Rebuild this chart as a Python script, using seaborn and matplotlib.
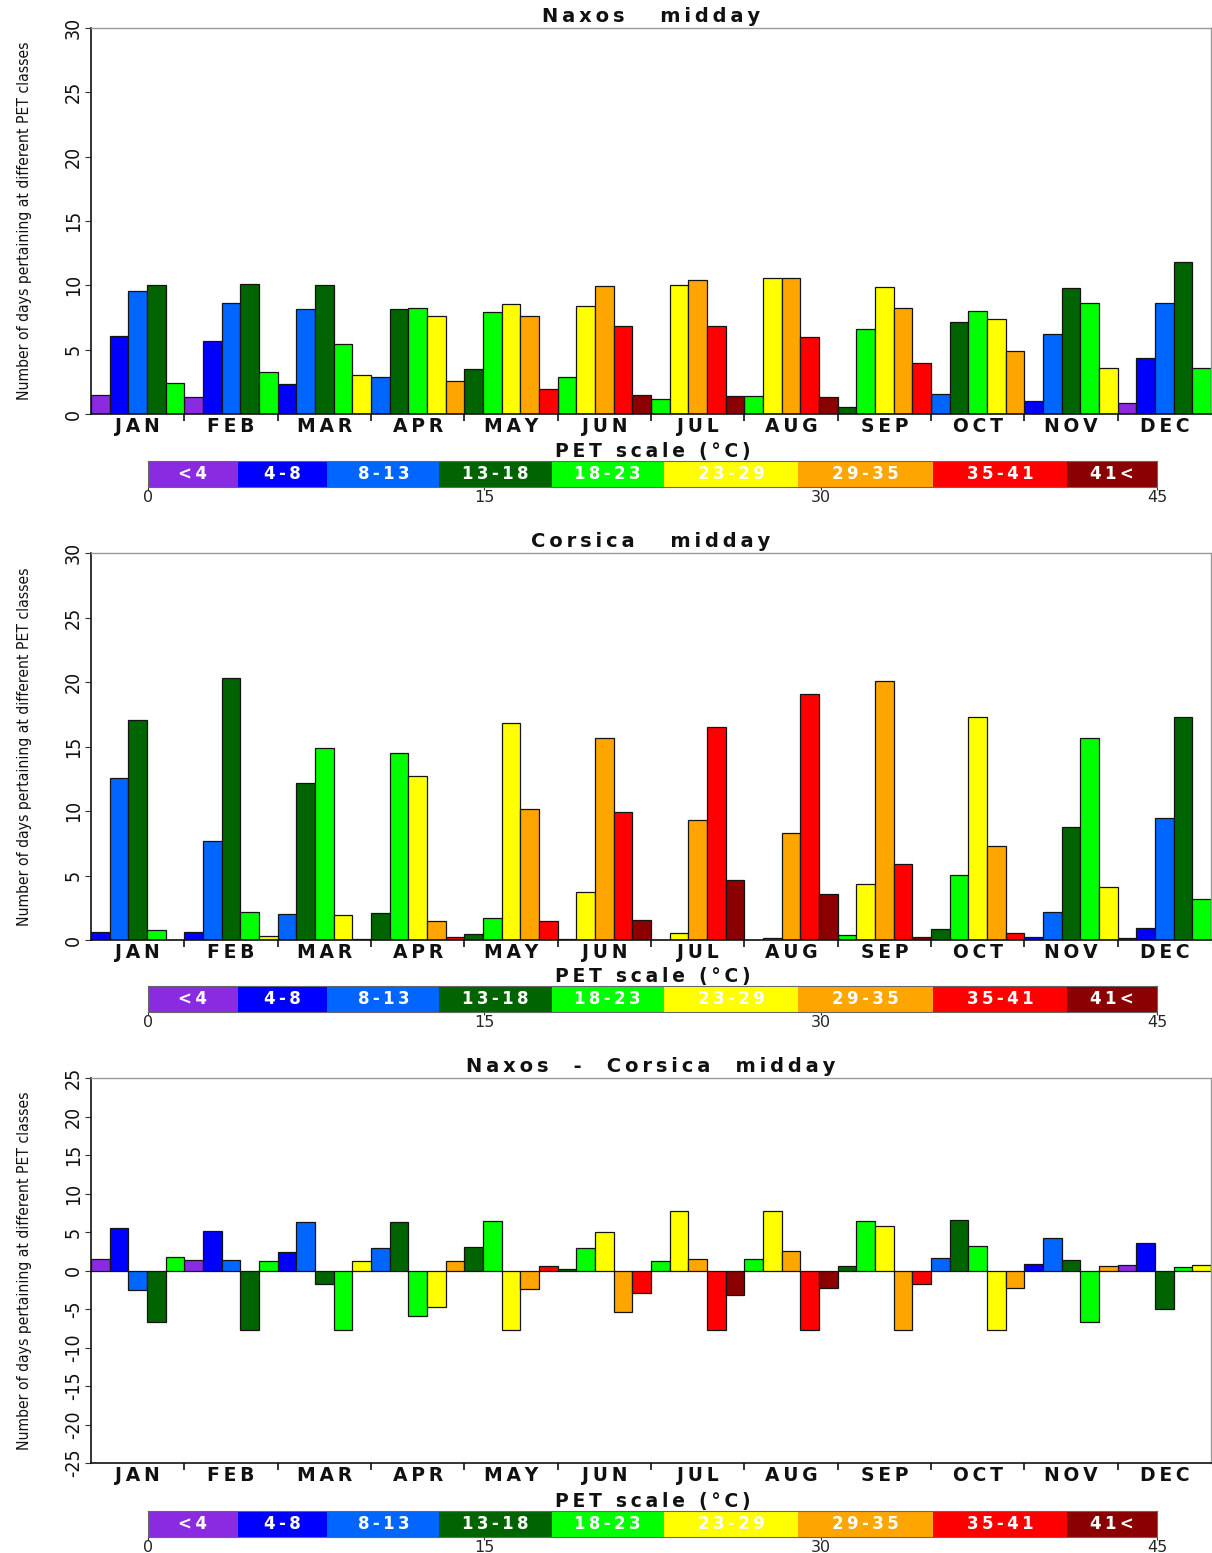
import os
import numpy as np
import pandas as pd
import matplotlib
matplotlib.use("Agg")
import matplotlib.pyplot as plt
from matplotlib import font_manager
from matplotlib.font_manager import FontProperties
import seaborn as sns

# ---------------------------------------------------------------- data
months = ["JAN", "FEB", "MAR", "APR", "MAY", "JUN",
          "JUL", "AUG", "SEP", "OCT", "NOV", "DEC"]

pet_classes = ["<4", "4-8", "8-13", "13-18", "18-23",
               "23-29", "29-35", "35-41", "41<"]
pet_edges = [0, 4, 8, 13, 18, 23, 29, 35, 41, 45]
pet_colors = ["#8A2BE2", "#0000FF", "#0066FF", "#006400", "#00FF00",
              "#FFFF00", "#FFA500", "#FF0000", "#8B0000"]

# PET class index of each of the five bars drawn per month
naxos_classes = [
    [0, 1, 2, 3, 4], [0, 1, 2, 3, 4], [1, 2, 3, 4, 5], [2, 3, 4, 5, 6],
    [3, 4, 5, 6, 7], [4, 5, 6, 7, 8], [4, 5, 6, 7, 8], [4, 5, 6, 7, 8],
    [3, 4, 5, 6, 7], [2, 3, 4, 5, 6], [1, 2, 3, 4, 5], [0, 1, 2, 3, 4],
]
naxos_days = [
    [1.48, 6.04, 9.58, 10.00, 2.44],
    [1.32, 5.65, 8.65, 10.07, 3.29],
    [2.36, 8.13, 10.05, 5.41, 3.00],
    [2.87, 8.13, 8.26, 7.59, 2.56],
    [3.47, 7.90, 8.52, 7.59, 1.97],
    [2.90, 8.42, 9.95, 6.86, 1.45],
    [1.17, 10.00, 10.44, 6.86, 1.42],
    [1.37, 10.57, 10.57, 5.98, 1.30],
    [0.54, 6.63, 9.84, 8.26, 3.94],
    [1.58, 7.17, 7.98, 7.36, 4.90],
    [0.98, 6.19, 9.82, 8.65, 3.55],
    [0.85, 4.33, 8.65, 11.79, 3.55],
]

corsica_classes = [
    [1, 2, 3, 4, 5], [1, 2, 3, 4, 5], [2, 3, 4, 5, 6], [3, 4, 5, 6, 7],
    [3, 4, 5, 6, 7], [4, 5, 6, 7, 8], [4, 5, 6, 7, 8], [4, 5, 6, 7, 8],
    [4, 5, 6, 7, 8], [3, 4, 5, 6, 7], [1, 2, 3, 4, 5], [0, 1, 2, 3, 4],
]
corsica_days = [
    [0.60, 12.55, 17.09, 0.81, 0.00],
    [0.60, 7.64, 20.31, 2.18, 0.29],
    [2.00, 12.16, 14.86, 1.92, 0.08],
    [2.10, 14.47, 12.68, 1.48, 0.26],
    [0.49, 1.71, 16.80, 10.18, 1.51],
    [0.10, 3.69, 15.69, 9.95, 1.58],
    [0.00, 0.52, 9.30, 16.49, 4.62],
    [0.00, 0.16, 8.31, 19.06, 3.58],
    [0.42, 4.34, 20.05, 5.90, 0.23],
    [0.83, 5.06, 17.25, 7.32, 0.52],
    [0.21, 2.18, 8.78, 15.64, 4.10],
    [0.16, 0.94, 9.43, 17.32, 3.17],
]

diff_classes = [
    [0, 1, 2, 3, 4], [0, 1, 2, 3, 4], [1, 2, 3, 4, 5], [2, 3, 4, 5, 6],
    [3, 4, 5, 6, 7], [3, 4, 5, 6, 7], [4, 5, 6, 7, 8], [4, 5, 6, 7, 8],
    [3, 4, 5, 6, 7], [2, 3, 4, 5, 6], [1, 2, 3, 4, 6], [0, 1, 3, 4, 5],
]
diff_days = [
    [1.55, 5.58, -2.53, -6.65, 1.72],
    [1.33, 5.15, 1.33, -7.77, 1.24],
    [2.45, 6.31, -1.72, -7.77, 1.20],
    [2.92, 6.27, -5.88, -4.76, 1.24],
    [3.05, 6.39, -7.77, -2.36, 0.52],
    [0.17, 2.90, 4.98, -5.36, -2.88],
    [1.24, 7.68, 1.50, -7.77, -3.18],
    [1.46, 7.68, 2.58, -7.77, -2.23],
    [0.52, 6.39, 5.84, -7.77, -1.80],
    [1.63, 6.57, 3.18, -7.77, -2.32],
    [0.86, 4.16, 1.37, -6.65, 0.52],
    [0.73, 3.52, -5.06, 0.43, 0.69],
]

# ---------------------------------------------------------------- style
sns.set_theme(style="white")
plt.rcParams["font.family"] = ["DejaVu Sans"]


def narrow_font():
    """Pick a narrow/condensed regular face if one is installed."""
    entries = font_manager.fontManager.ttflist
    for f in entries:
        if f.name == "Liberation Sans Narrow" and f.style == "normal" \
                and f.weight in (400, "normal", "regular"):
            return FontProperties(fname=f.fname), True
    for f in entries:
        fn = os.path.basename(f.fname).lower()
        if ("condensed" in fn or "narrow" in fn) and "bold" not in fn \
                and "oblique" not in fn and "italic" not in fn \
                and "light" not in fn and "thin" not in fn:
            return FontProperties(fname=f.fname), True
    return FontProperties(family="Liberation Sans"), False


NARROW, HAVE_NARROW = narrow_font()

BARS_PER_MONTH = 5
palette = dict(zip(pet_classes, pet_colors))


def spaced(text, sep="\u2009"):
    return sep.join(text)


def month_frame(classes, days):
    rows = []
    for m, (cls_row, val_row) in enumerate(zip(classes, days)):
        for j, (c, v) in enumerate(zip(cls_row, val_row)):
            rows.append({"slot": m * BARS_PER_MONTH + j,
                         "pet": pet_classes[c], "days": v})
    return pd.DataFrame(rows)


def draw_panel(ax, classes, days, title, ylim, yticks):
    df = month_frame(classes, days)
    n = len(months) * BARS_PER_MONTH
    sns.barplot(data=df, x="slot", y="days", hue="pet", order=list(range(n)),
                hue_order=pet_classes, palette=palette, dodge=False,
                saturation=1, width=1.0, errorbar=None, edgecolor="#141414",
                linewidth=0.9, legend=False, ax=ax)
    ax.set_xlim(-0.5, n - 0.5)
    ax.set_ylim(*ylim)
    ax.set_yticks(yticks)
    ax.set_yticklabels([str(t) for t in yticks], fontproperties=NARROW,
                       fontsize=14 if HAVE_NARROW else 12.5,
                       rotation=90, va="center", color="#111111")
    ax.tick_params(axis="y", length=4, width=0.8, color="#333333", pad=2,
                   left=True, direction="out")
    centers = np.arange(len(months)) * BARS_PER_MONTH + (BARS_PER_MONTH - 1) / 2
    ax.set_xticks(centers)
    ax.set_xticklabels([spaced(m) for m in months], fontweight="bold",
                       fontsize=13.5, color="#111111")
    ax.tick_params(axis="x", which="major", length=0, pad=2)
    ax.set_xticks(np.arange(1, len(months)) * BARS_PER_MONTH - 0.5, minor=True)
    ax.tick_params(axis="x", which="minor", length=5, width=1.2,
                   color="#111111", bottom=True, direction="out")
    ax.set_xlabel("")
    ax.set_ylabel("Number of days pertaining at different PET classes",
                  fontproperties=NARROW, fontsize=15, color="#111111")
    ax.yaxis.set_label_coords(-0.053, 0.5)
    ax.set_title(title, fontweight="bold", fontsize=14, pad=4,
                 color="#111111")
    for side in ("left", "bottom"):
        ax.spines[side].set_color("#111111")
        ax.spines[side].set_linewidth(1.2)
    for side in ("top", "right"):
        ax.spines[side].set_color("#999999")
        ax.spines[side].set_linewidth(1.0)


def draw_scale(cax):
    for i, name in enumerate(pet_classes):
        cax.axvspan(pet_edges[i], pet_edges[i + 1], color=pet_colors[i], lw=0)
        cax.text((pet_edges[i] + pet_edges[i + 1]) / 2, 0.5, spaced(name),
                 ha="center", va="center", color="white",
                 fontweight="bold", fontsize=12)
    cax.set_xlim(pet_edges[0], pet_edges[-1])
    cax.set_ylim(0, 1)
    cax.set_yticks([])
    cax.set_xticks([0, 15, 30, 45])
    cax.tick_params(axis="x", length=2, width=0.8, color="#333333",
                    labelsize=11.5, pad=0, bottom=True)
    for sp in cax.spines.values():
        sp.set_color("#666666")
        sp.set_linewidth(0.8)
    cax.set_title(spaced("PET scale (°C)"), fontweight="bold",
                  fontsize=13.5, pad=3, color="#111111")


# ---------------------------------------------------------------- figure
W, H = 1212, 1553
fig = plt.figure(figsize=(W / 100, H / 100), dpi=100)


def fig_rect(x0, y0, x1, y1):
    return [x0 / W, 1 - y1 / H, (x1 - x0) / W, (y1 - y0) / H]


panels = [
    (naxos_classes, naxos_days, "Naxos   midday", (0, 30), list(range(0, 31, 5)), 28, 414, 461),
    (corsica_classes, corsica_days, "Corsica   midday", (0, 30), list(range(0, 31, 5)), 553, 940, 986),
    (diff_classes, diff_days, "Naxos  -  Corsica  midday", (-25, 25), list(range(-25, 26, 5)), 1078, 1463, 1511),
]

axes = []
for classes, days, title, ylim, yticks, top, bottom, cb_top in panels:
    ax = fig.add_axes(fig_rect(91, top, 1211, bottom))
    draw_panel(ax, classes, days, spaced(title, "\u2009"), ylim, yticks)
    cax = fig.add_axes(fig_rect(148, cb_top, 1157, cb_top + 26))
    draw_scale(cax)
    axes.append(ax)

# size the y-axis titles so that each spans about 360 px of its panel
fig.canvas.draw()
renderer = fig.canvas.get_renderer()
for ax in axes:
    lab = ax.yaxis.label
    span = lab.get_window_extent(renderer).height
    lab.set_fontsize(lab.get_fontsize() * 360.0 / span)

fig.savefig("out.png", dpi=100, facecolor="white")
